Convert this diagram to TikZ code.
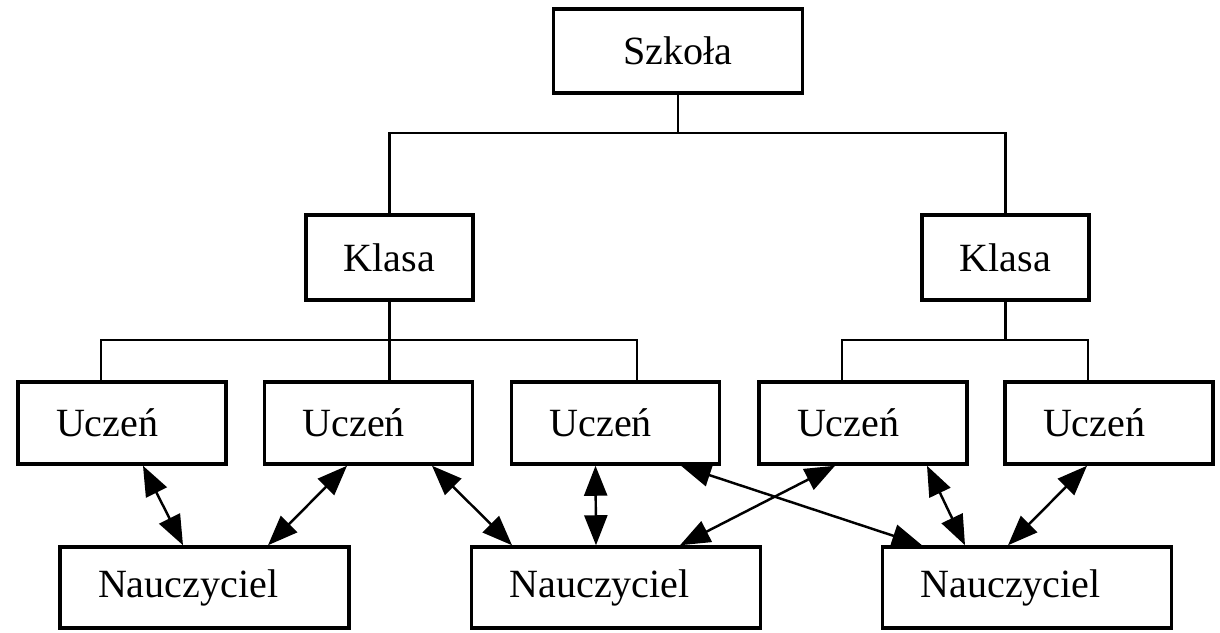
\documentclass[tikz,border=0pt]{standalone}
\usepackage{fontspec}
\setmainfont{Liberation Serif}
\usetikzlibrary{arrows.meta}

\begin{document}
\begin{tikzpicture}[
    unit/.style={draw, line width=2pt, inner sep=0pt, font=\fontsize{22.8}{27}\selectfont},
    member/.style={unit, inner xsep=0.76cm, align=left, minimum height=1.64cm},
    link/.style={line width=1.6pt},
    relation/.style={line width=1.4pt, {Triangle[length=0.6cm,width=0.46cm]}-{Triangle[length=0.6cm,width=0.46cm]}}
]
\useasboundingbox (0,0) rectangle (24.4,12.64);

    \node[unit, minimum width=4.98cm, minimum height=1.68cm] (school) at (13.56,11.62) {Szkoła};

    \node[unit, minimum width=3.34cm, minimum height=1.7cm] (classA) at (7.79,7.49) {Klasa};
    \node[unit, minimum width=3.34cm, minimum height=1.7cm] (classB) at (20.11,7.49) {Klasa};

    \node[member, text width=2.64cm] (pupilA) at (2.44,4.18) {Uczeń};
    \node[member, text width=2.64cm] (pupilB) at (7.37,4.18) {Uczeń};
    \node[member, text width=2.64cm] (pupilC) at (12.31,4.18) {Uczeń};
    \node[member, text width=2.64cm] (pupilD) at (17.26,4.18) {Uczeń};
    \node[member, text width=2.64cm] (pupilE) at (22.18,4.18) {Uczeń};

    \node[member, text width=4.26cm, minimum height=1.62cm] (teacherA) at (4.09,0.89) {Nauczyciel};
    \node[member, text width=4.26cm, minimum height=1.62cm] (teacherB) at (12.32,0.89) {Nauczyciel};
    \node[member, text width=4.26cm, minimum height=1.62cm] (teacherC) at (20.54,0.89) {Nauczyciel};

    \coordinate (topbus) at (0,9.98);
    \coordinate (lowbus) at (0,5.84);

    \draw[link] (school.south) -- (school.south |- topbus);
    \draw[link] (classA.north) |- (classB.north |- topbus) -- (classB.north);

    \draw[link] (classA.south) -- (classA.south |- pupilB.north);
    \draw[link] ([xshift=-0.42cm]pupilA.north) |- ([xshift=0.43cm]pupilC.north |- lowbus) -- ([xshift=0.43cm]pupilC.north);
    \draw[link] (classB.south) -- (classB.south |- lowbus);
    \draw[link] ([xshift=-0.42cm]pupilD.north) |- ([xshift=-0.42cm]pupilE.north |- lowbus) -- ([xshift=-0.42cm]pupilE.north);

    \draw[relation] ([xshift=0.42cm]pupilA.south) -- ([xshift=-0.43cm]teacherA.north);
    \draw[relation] ([xshift=-0.43cm]pupilB.south) -- ([xshift=1.27cm]teacherA.north);
    \draw[relation] ([xshift=1.27cm]pupilB.south) -- ([xshift=-2.08cm]teacherB.north);
    \draw[relation] ([xshift=-0.4cm]pupilC.south) -- ([xshift=-0.4cm]teacherB.north);
    \draw[relation] ([xshift=1.31cm]pupilC.south) -- ([xshift=-2.1cm]teacherC.north);
    \draw[relation] ([xshift=-0.56cm]pupilD.south) -- ([xshift=1.28cm]teacherB.north);
    \draw[relation] ([xshift=1.28cm]pupilD.south) -- ([xshift=-1.24cm]teacherC.north);
    \draw[relation] ([xshift=-0.44cm]pupilE.south) -- ([xshift=-0.38cm]teacherC.north);
\end{tikzpicture}
\end{document}
